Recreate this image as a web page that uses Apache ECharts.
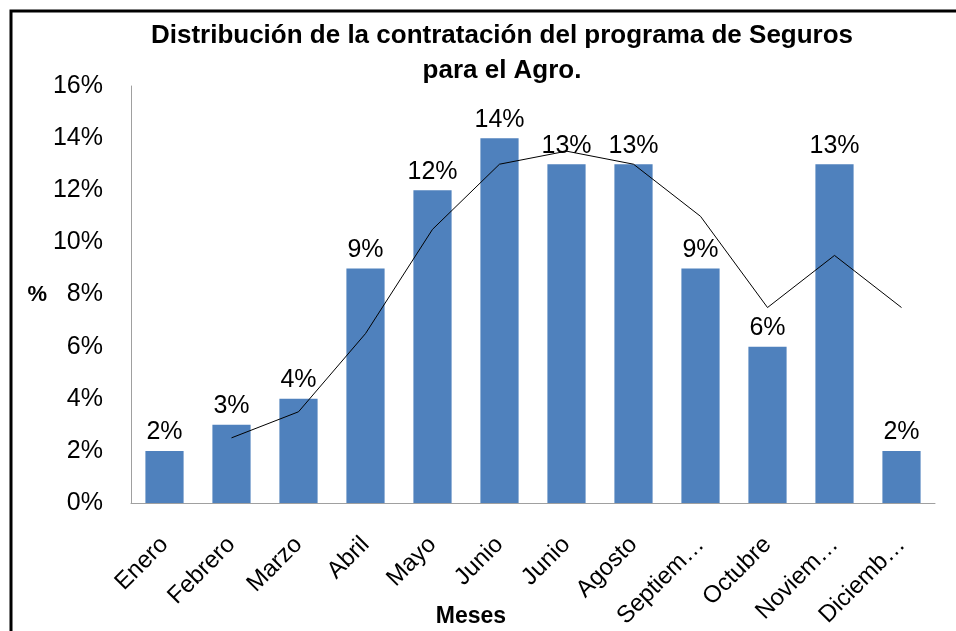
<!DOCTYPE html>
<html>
<head>
<meta charset="utf-8">
<script src="https://cdn.jsdelivr.net/npm/echarts@6/dist/echarts.min.js"></script>
<style>
  html, body { margin: 0; padding: 0; background: #fff; }
  #chart { width: 956px; height: 631px; }
</style>
</head>
<body>
<div id="chart"></div>
<script>
// months as shown on the axis (the source repeats "Junio")
const months = ['Enero', 'Febrero', 'Marzo', 'Abril', 'Mayo', 'Junio', 'Junio', 'Agosto', 'Septiem…', 'Octubre', 'Noviem…', 'Diciemb…'];
// share of contracts per month, %
const shares = [2, 3, 4, 9, 12, 14, 13, 13, 9, 6, 13, 2];
// 2-period moving average trend line, %
const trend = [null, 2.5, 3.5, 6.5, 10.5, 13, 13.5, 13, 11, 7.5, 9.5, 7.5];
const yTicks = [0, 2, 4, 6, 8, 10, 12, 14, 16];

const font = '"Liberation Sans", Arial, sans-serif';
const chart = echarts.init(document.getElementById('chart'), null, { renderer: 'canvas' });

chart.setOption({
  backgroundColor: '#fff',
  animation: false,
  textStyle: { fontFamily: font, color: '#000' },
  title: {
    text: 'Distribución de la contratación del programa de Seguros\npara el Agro.',
    left: 497,
    textAlign: 'center',
    top: 13,
    textStyle: { fontSize: 26, fontWeight: 'bold', color: '#000', lineHeight: 35, fontFamily: font }
  },
  graphic: [
    {
      type: 'rect',
      shape: { x: 11, y: 11, width: 960, height: 640 },
      style: { fill: 'none', stroke: '#000', lineWidth: 3 },
      silent: true
    },
    {
      // x-axis title, offset left of the plot centre as in the source
      type: 'text',
      x: 471,
      y: 617,
      style: { text: 'Meses', fontSize: 23, fontWeight: 'bold', fill: '#000', fontFamily: font, align: 'center', verticalAlign: 'middle' },
      silent: true
    }
  ],
  grid: { left: 131, right: 21, top: 86, bottom: 128, containLabel: false, outerBoundsMode: 'none' },
  xAxis: {
    type: 'category',
    data: months,
    axisLine: { lineStyle: { color: '#a0a0a0', width: 1 } },
    axisTick: { show: false },
    axisLabel: { rotate: 45, fontSize: 24, color: '#000', margin: 38, interval: 0, fontFamily: font }
  },
  yAxis: {
    type: 'value',
    min: yTicks[0],
    max: yTicks[yTicks.length - 1],
    interval: 2,
    name: '%',
    nameLocation: 'middle',
    nameRotate: 0,
    nameGap: 84,
    nameTextStyle: { fontSize: 22, fontWeight: 'bold', color: '#000', fontFamily: font },
    axisLine: { show: true, lineStyle: { color: '#a0a0a0', width: 1 } },
    axisTick: { show: false },
    splitLine: { show: false },
    axisLabel: { fontSize: 25, color: '#000', margin: 28, formatter: '{value}%', fontFamily: font }
  },
  series: [
    {
      type: 'bar',
      data: shares,
      barWidth: '57%',
      itemStyle: { color: '#4f81bd' },
      label: { show: true, position: 'top', formatter: '{c}%', fontSize: 25, color: '#000', distance: 6, fontFamily: font }
    },
    {
      type: 'line',
      data: trend,
      showSymbol: false,
      symbol: 'none',
      lineStyle: { color: '#000', width: 1 },
      z: 5
    }
  ]
});
</script>
</body>
</html>
